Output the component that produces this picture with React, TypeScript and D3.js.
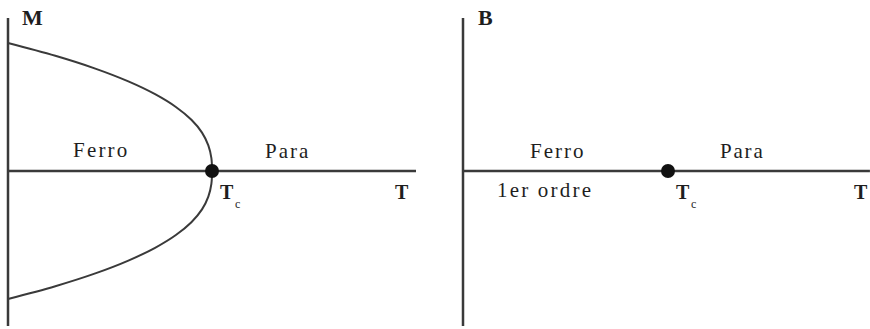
import React from "react";
import * as d3 from "d3";

// Curve of spontaneous magnetisation (upper branch): [T/Tc, M/M0]
const curveM = [1, 0.9, 0.8, 0.7, 0.6, 0.5, 0.4, 0.3, 0.2, 0.1, 0];
const curveT = [0, 0.232, 0.428, 0.59, 0.721, 0.823, 0.899, 0.951, 0.982, 0.997, 1];

const axisTop = 1.195;
const axisBottom = -1.21;
const tMaxLeft = 2;
const tMaxRight = 1.985;
const Tc = 1;

const leftLabels = { ferro: "Ferro", para: "Para", yName: "M", xName: "T", tc: "T", sub: "c" };
const rightLabels = { ferro: "Ferro", order: "1er ordre", para: "Para", yName: "B", xName: "T", tc: "T", sub: "c" };

export default function App() {
  const W = 870, H = 329;
  const y = d3.scaleLinear().domain([-1, 1]).range([299, 43]);
  const xL = d3.scaleLinear().domain([0, 2]).range([8, 416]);
  const xR = d3.scaleLinear().domain([0, 2]).range([463, 873]);

  const upper = curveT.map((t, i) => [t, curveM[i]] as [number, number]);
  const lower = upper.slice(0, -1).reverse().map(([t, m]) => [t, -m] as [number, number]);
  const pts = upper.concat(lower);
  const line = d3
    .line<[number, number]>()
    .x((d) => xL(d[0]))
    .y((d) => y(d[1]))
    .curve(d3.curveCatmullRom.alpha(0.5));

  const stroke = "#3a3a3a";
  const txt = "#1e1e1e";
  const serif = "'Liberation Serif', 'DejaVu Serif', serif";

  return (
    <svg width={W} height={H} style={{ position: "absolute", left: 0, top: 0, background: "#fff" }}>
      {/* Left panel */}
      <line x1={xL(0)} x2={xL(0)} y1={y(axisTop)} y2={y(axisBottom)} stroke={stroke} strokeWidth={2.5} />
      <line x1={xL(0)} x2={xL(tMaxLeft)} y1={y(0)} y2={y(0)} stroke={stroke} strokeWidth={2.5} />
      <path d={line(pts) || ""} fill="none" stroke={stroke} strokeWidth={2} />
      <circle cx={xL(Tc)} cy={y(0)} r={7} fill="#111" />
      <text x={22} y={25} fontFamily={serif} fontWeight="bold" fontSize={22} fill={txt}>{leftLabels.yName}</text>
      <text x={73} y={157} fontFamily={serif} fontSize={21} letterSpacing={2.2} fill={txt}>{leftLabels.ferro}</text>
      <text x={265} y={158} fontFamily={serif} fontSize={21} letterSpacing={2} fill={txt}>{leftLabels.para}</text>
      <text x={220} y={199} fontFamily={serif} fontWeight="bold" fontSize={20} fill={txt}>{leftLabels.tc}</text>
      <text x={235} y={208} fontFamily={serif} fontSize={12} fill={txt}>{leftLabels.sub}</text>
      <text x={395} y={199} fontFamily={serif} fontWeight="bold" fontSize={20} fill={txt}>{leftLabels.xName}</text>

      {/* Right panel */}
      <line x1={xR(0)} x2={xR(0)} y1={y(axisTop)} y2={y(axisBottom)} stroke={stroke} strokeWidth={2.5} />
      <line x1={xR(0)} x2={xR(tMaxRight)} y1={y(0)} y2={y(0)} stroke={stroke} strokeWidth={2.5} />
      <circle cx={xR(Tc)} cy={y(0)} r={7} fill="#111" />
      <text x={478} y={25} fontFamily={serif} fontWeight="bold" fontSize={22} fill={txt}>{rightLabels.yName}</text>
      <text x={530} y={158} fontFamily={serif} fontSize={21} letterSpacing={2} fill={txt}>{rightLabels.ferro}</text>
      <text x={497} y={197} fontFamily={serif} fontSize={21} letterSpacing={2.2} fill={txt}>{rightLabels.order}</text>
      <text x={720} y={158} fontFamily={serif} fontSize={21} letterSpacing={1.8} fill={txt}>{rightLabels.para}</text>
      <text x={676} y={199} fontFamily={serif} fontWeight="bold" fontSize={20} fill={txt}>{rightLabels.tc}</text>
      <text x={691} y={208} fontFamily={serif} fontSize={12} fill={txt}>{rightLabels.sub}</text>
      <text x={854} y={199} fontFamily={serif} fontWeight="bold" fontSize={20} fill={txt}>{rightLabels.xName}</text>
    </svg>
  );
}
